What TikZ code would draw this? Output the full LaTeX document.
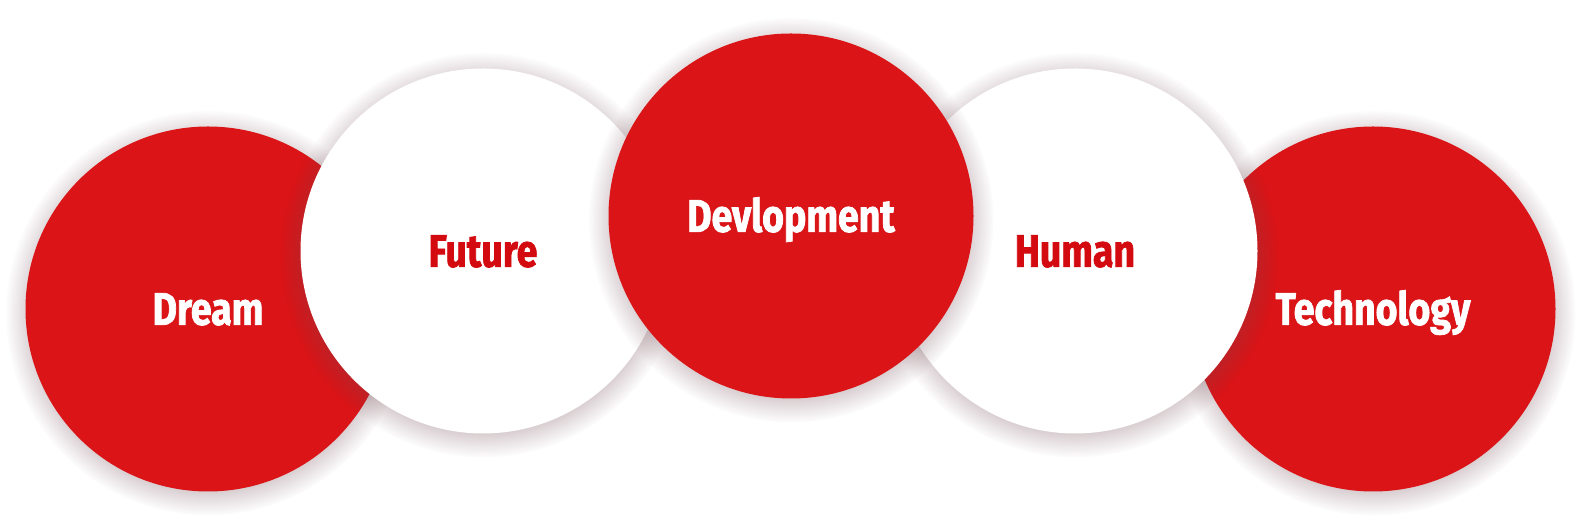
\documentclass[tikz,border=0pt]{standalone}
\usepackage{xcolor}
\usepackage{fontspec}
\usepackage{tikz}
\usetikzlibrary{positioning,shadows}
\newfontfamily\bubblefont[FakeStretch=0.82,FakeBold=1.6]{Fira Sans Bold}
\definecolor{RED}{HTML}{DA1417}
\definecolor{DARKRED}{HTML}{D30A0F}
\definecolor{SHADE}{HTML}{6E4650}

\begin{document}
\begin{tikzpicture}[node distance=5.5cm,on grid,
	bubble/.style={circle,minimum size=7.3cm,inner sep=0pt,text height=18pt,text depth=0pt,
		font=\bubblefont\fontsize{26}{30}\selectfont,
		circular drop shadow={shadow xshift=0pt,shadow yshift=-0.07cm,shadow scale=1.11,fill=SHADE,opacity=0.32}},
	redbubble/.style={bubble,fill=RED,text=white},
	whitebubble/.style={bubble,fill=white,text=DARKRED}]
	\useasboundingbox (0,0) rectangle (31.54,10.6);
	
	\node[redbubble]   (dream)                  at (4.16,4.42)              {Dream};
	\node[redbubble]   (tech)   [right=23.3cm of dream]                     {Technology};
	\node[whitebubble] (future) [above right=1.16cm and 5.5cm of dream]     {Future};
	\node[whitebubble] (human)  [above left=1.16cm and 5.96cm of tech]      {Human};
	\node[redbubble]   (devel)  [above right=0.7cm and 6.16cm of future]    {Devlopment};
\end{tikzpicture}
\end{document}
